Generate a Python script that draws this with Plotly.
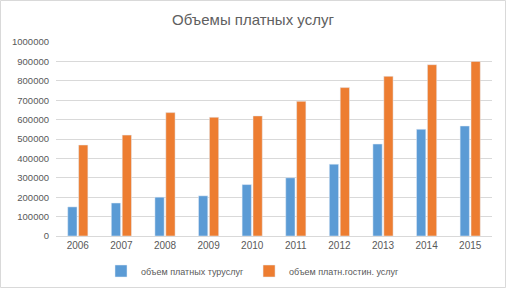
import plotly.graph_objects as go

years = ["2006", "2007", "2008", "2009", "2010", "2011", "2012", "2013", "2014", "2015"]
tour_services = [150000, 170000, 200000, 207000, 265000, 300000, 370000, 474000, 550000, 567000]
hotel_services = [469000, 520000, 636000, 612000, 619000, 694000, 765000, 823000, 883000, 900000]
series_names = ["объем платных турyслуг", "объем платн.гостин. услуг"]
y_ticks = [0, 100000, 200000, 300000, 400000, 500000, 600000, 700000, 800000, 900000, 1000000]

W, H = 506, 288
L, R, T, B = 56, 14, 42, 52

fig = go.Figure()
fig.add_trace(go.Bar(x=years, y=tour_services, name=series_names[0], marker_color="#5b9bd5"))
fig.add_trace(go.Bar(x=years, y=hotel_services, name=series_names[1], marker_color="#ed7d31"))

fig.update_layout(
    width=W, height=H,
    margin=dict(l=L, r=R, t=T, b=B, autoexpand=False),
    paper_bgcolor="white", plot_bgcolor="white",
    font=dict(family="Liberation Sans, Arial, sans-serif", size=10, color="#595959"),
    title=dict(text="Объемы платных услуг", x=0.5, xanchor="center", xref="container",
               y=1 - 20 / H, yanchor="middle", yref="container",
               font=dict(size=15, color="#606060")),
    barmode="group", bargap=0.5, bargroupgap=0.15,
    showlegend=True,
    legend=dict(orientation="h", x=0.5, xanchor="center", xref="container",
                y=1 - 271 / H, yanchor="middle", yref="container",
                font=dict(size=9, color="#595959"), itemwidth=30, traceorder="normal"),
    xaxis=dict(showgrid=False, showline=True, linecolor="#d9d9d9", ticks="", tickfont=dict(size=10),
               automargin=False),
    yaxis=dict(range=[0, 1000000], tickvals=y_ticks, tickformat="d", showgrid=True,
               gridcolor="#d9d9d9", zeroline=False, showline=False, ticks="", tickfont=dict(size=9.5),
               ticklabelstandoff=6, automargin=False),
)
pw, ph = W - L - R, H - T - B
fig.add_shape(type="rect", xref="paper", yref="paper",
              x0=(0.5 - L) / pw, x1=(W - 0.5 - L) / pw,
              y0=-(B - 0.5) / ph, y1=(H - 0.5 - B) / ph,
              line=dict(color="#d9d9d9", width=1), fillcolor="rgba(0,0,0,0)", layer="below")
fig.write_html("out.html", config={"displayModeBar": False},
               post_script="document.body.style.margin='0';")
